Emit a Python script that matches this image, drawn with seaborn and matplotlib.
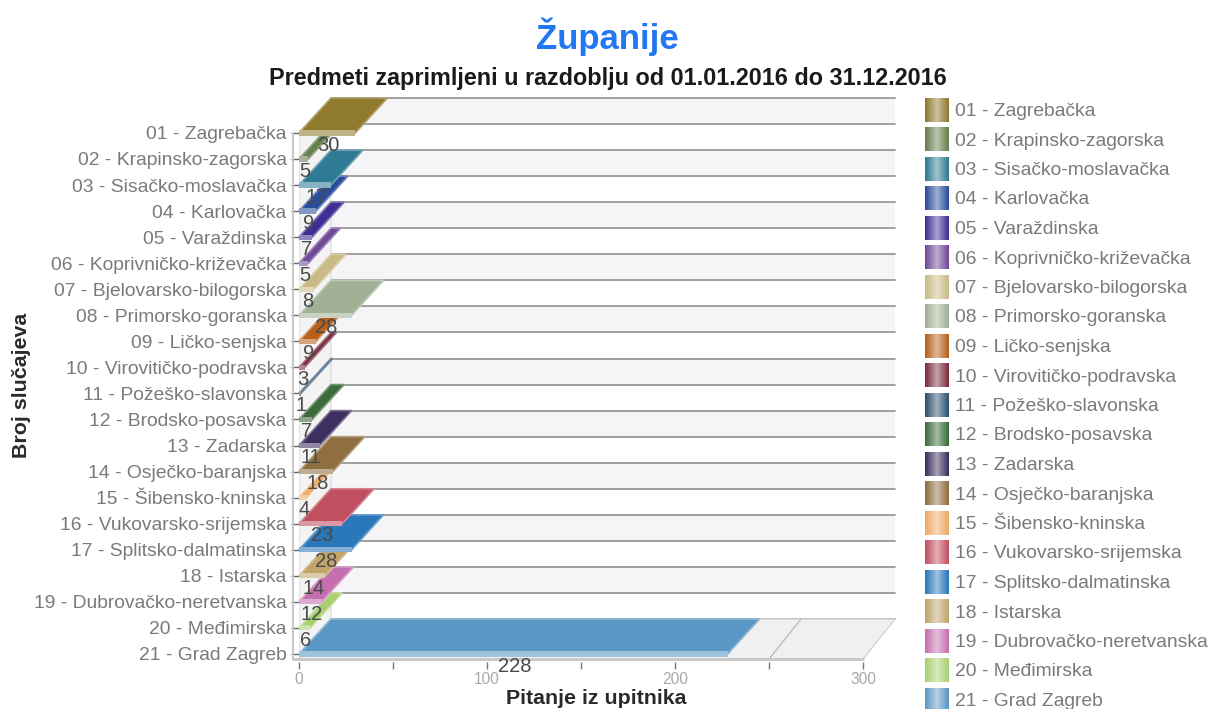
import numpy as np
import pandas as pd
import seaborn as sns
import matplotlib.pyplot as plt
from matplotlib.colors import to_rgb
from matplotlib.patches import Polygon

# Data
counties = ["01 - Zagrebačka", "02 - Krapinsko-zagorska", "03 - Sisačko-moslavačka", "04 - Karlovačka",
            "05 - Varaždinska", "06 - Koprivničko-križevačka", "07 - Bjelovarsko-bilogorska",
            "08 - Primorsko-goranska", "09 - Ličko-senjska", "10 - Virovitičko-podravska",
            "11 - Požeško-slavonska", "12 - Brodsko-posavska", "13 - Zadarska", "14 - Osječko-baranjska",
            "15 - Šibensko-kninska", "16 - Vukovarsko-srijemska", "17 - Splitsko-dalmatinska",
            "18 - Istarska", "19 - Dubrovačko-neretvanska", "20 - Međimirska", "21 - Grad Zagreb"]
cases = [30, 5, 17, 9, 7, 5, 8, 28, 9, 3, 1, 7, 11, 18, 4, 23, 28, 14, 12, 6, 228]
colors = ["#8f7a2e", "#667f4f", "#2f7a94", "#2a4d9b", "#3f2f94", "#6f4a97", "#c9bb85",
          "#a2b096", "#b8601a", "#7a2f3f", "#2f5270", "#3b6b38", "#3d2f5f", "#8f6f3f",
          "#eeaa66", "#c04f5f", "#2a78ba", "#bfa56a", "#c56fb0", "#a8d070", "#5b98c5"]
x_ticks = [0, 50, 100, 150, 200, 250, 300]
x_labels = ["0", "", "100", "", "200", "", "300"]

W, H = 1210, 709
GREY = "#7a7a7a"

# 3D depth of the chart, in data units
DX = 17
DY = 1.34


def lighten(c, k):
    r = np.array(to_rgb(c))
    return tuple(r + (1 - r) * k)


sns.set_theme(style="white")
plt.rcParams["font.family"] = ["Liberation Sans", "DejaVu Sans"]

fig = plt.figure(figsize=(W / 100, H / 100), dpi=100)

# axes placed in pixels: x 299..895, y 91..662
ax = fig.add_axes([299 / W, 1 - 662 / H, (895 - 299) / W, (662 - 91) / H])

df = pd.DataFrame({"county": counties, "cases": cases})
sns.barplot(data=df, x="cases", y="county", hue="county", palette=[lighten(c, 0.42) for c in colors],
            width=0.2, dodge=False, legend=False, orient="y", ax=ax, saturation=1, linewidth=0)

ax.set_xlim(0, 317)
ax.set_ylim(20.31, -1.609)
sns.despine(ax=ax, left=True, bottom=True, top=True, right=True)
ax.patch.set_alpha(0)

# back wall bands and grid lines
n = len(counties)
for i in range(n - 1):
    if i % 2 == 0:
        ax.fill_between([DX, 300 + DX], i - DY, i + 1 - DY, color="#f5f5f8", lw=0, zorder=0.5)
for i in range(n):
    ax.plot([DX, 300 + DX], [i - DY, i - DY], color="#999999", lw=1.3, zorder=1, clip_on=False)

# left wall and floor
ax.add_patch(Polygon([(0, 0), (DX, -DY), (DX, 20 - DY), (0, 20)], fc="#f3f3f3", ec="#dedede", lw=1, zorder=1.5))
ax.add_patch(Polygon([(0, 20.2), (DX, 20 - DY), (300 + DX, 20 - DY), (300, 20.2)],
                     fc="#f0f0f0", ec="#d4d4d4", lw=1, zorder=1.5))
ax.plot([250, 250 + DX], [20.2, 20 - DY], color="#bdbdbd", lw=1, zorder=1.6)
ax.plot([-3, 300], [20.2, 20.2], color="#c8c8c8", lw=2, zorder=1.7, clip_on=False)
ax.plot([-3, -3], [0, 20.2], color="#c8c8c8", lw=1.5, zorder=1.7, clip_on=False)

# bars: thin front from seaborn, top face as a parallelogram
for i, (v, c) in enumerate(zip(cases, colors)):
    z = 10 + (n - i) * 2
    ax.patches[i].set_zorder(z + 1)
    ax.add_patch(Polygon([(0, i), (v, i), (v + DX, i - DY), (DX, i - DY)],
                         fc=c, ec=lighten(c, 0.3), lw=1.2, zorder=z, clip_on=False))
    ax.text(v / 2 + 0.7, i + 0.47, str(v), ha="center", va="center", fontsize=14.5, color="#4a4a4a", zorder=100)

ax.set_xticks(x_ticks, x_labels)
ax.tick_params(axis="x", length=5, width=1, color="#777777", labelcolor="#a8a8a8", labelsize=11.2, pad=2, bottom=True)
ax.tick_params(axis="y", length=6, width=1, color="#666666", labelcolor=GREY, labelsize=13.9, pad=3, left=True)
ax.set_xlabel("")
ax.set_ylabel("")

# overlay in pixel coordinates for titles and legend
ov = fig.add_axes([0, 0, 1, 1])
ov.set_xlim(0, W)
ov.set_ylim(H, 0)
ov.axis("off")
ov.patch.set_alpha(0)

ov.text(607, 37, "Županije", ha="center", va="center", fontsize=25, fontweight="bold", color="#2277f2")
ov.text(608, 78, "Predmeti zaprimljeni u razdoblju od 01.01.2016 do 31.12.2016", ha="center", va="center",
        fontsize=16.8, fontweight="bold", color="#1a1a1a")
ov.text(22, 385, "Broj slučajeva", rotation=90, ha="center", va="center", fontsize=15.4, fontweight="bold",
        color="#2a2a2a")
ov.text(596, 698, "Pitanje iz upitnika", ha="center", va="center", fontsize=15.4, fontweight="bold",
        color="#2a2a2a")

# legend swatches with the horizontal gradient
ramp = np.abs(np.linspace(-1, 1, 24))[None, :, None]
for i, (name, c) in enumerate(zip(counties, colors)):
    y = 110 + i * 29.5
    rgb = np.array(to_rgb(c))[None, None, :]
    grad = rgb * ramp + np.array(lighten(c, 0.55))[None, None, :] * (1 - ramp)
    ov.imshow(grad, extent=(925, 949, y + 12, y - 12), aspect="auto", interpolation="bilinear", zorder=2)
    ov.text(955, y + 1.5, name, ha="left", va="center", fontsize=13.9, color=GREY)
ov.set_xlim(0, W)
ov.set_ylim(H, 0)

fig.savefig("out.png", dpi=100)
